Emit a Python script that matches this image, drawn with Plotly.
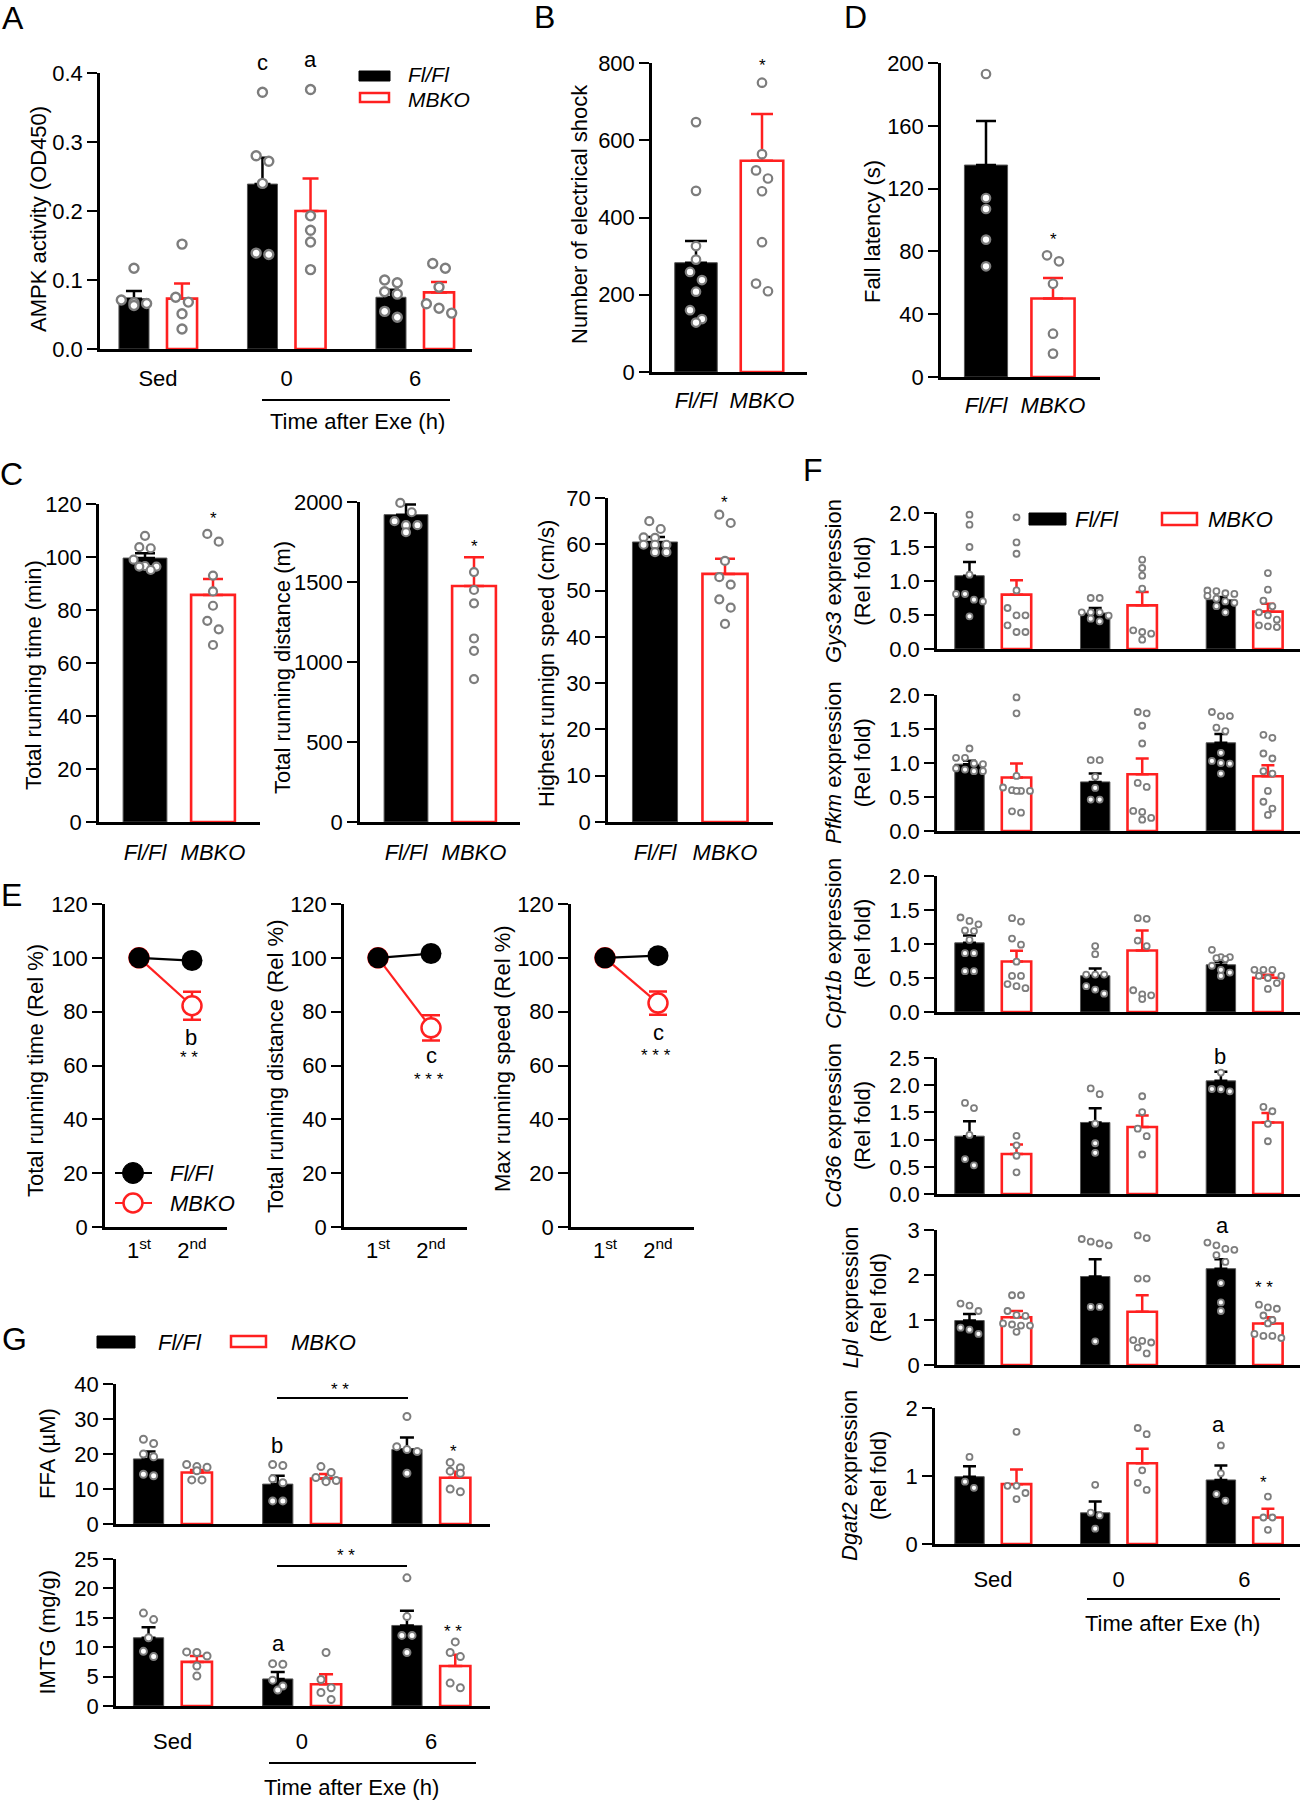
import plotly.graph_objects as go

# ---------------------------------------------------------------- data
GROUPS = ["Sed", "0", "6"]
GENO = ["<i>Fl/Fl</i>", "<i>MBKO</i>"]
ROUND = ["1<sup>st</sup>", "2<sup>nd</sup>"]

# A: AMPK activity
A_fl_mean = [0.073, 0.239, 0.075]
A_fl_sem = [0.011, 0.038, 0.011]
A_ko_mean = [0.073, 0.200, 0.082]
A_ko_sem = [0.022, 0.047, 0.015]
A_fl_pts = [[0.117, 0.071, 0.067, 0.066, 0.063],
            [0.372, 0.280, 0.272, 0.240, 0.139, 0.137],
            [0.100, 0.096, 0.083, 0.0795, 0.0545, 0.046]]
A_ko_pts = [[0.152, 0.075, 0.068, 0.051, 0.029],
            [0.376, 0.193, 0.172, 0.155, 0.115],
            [0.124, 0.117, 0.0897, 0.0655, 0.059, 0.052]]

# B: electrical shocks
B_mean = [283, 547]
B_sem = [56, 121]
B_pts = [[647, 469, 326, 291, 259, 238, 208, 160, 137, 128],
         [749, 564, 522, 501, 468, 336, 229, 209]]

# D: fall latency
D_mean = [135, 50]
D_sem = [28, 13]
D_pts = [[193, 114, 107, 87.5, 70.5],
         [77.5, 73.7, 59.4, 27.6, 14.9]]

# C: running tests
C1_mean = [99.6, 85.7]
C1_sem = [1.8, 6.0]
C1_pts = [[108, 103.7, 103.3, 99, 96.6, 96.4, 96.4, 95.1],
          [108.7, 105.8, 93, 87, 81.6, 75.9, 72.7, 66.8]]
C2_mean = [1921, 1475]
C2_sem = [63, 180]
C2_pts = [[1994, 1936, 1880, 1855, 1855, 1811],
          [1562, 1450, 1367, 1147, 1070, 893]]
C3_mean = [60.5, 53.6]
C3_sem = [1.1, 3.3]
C3_pts = [[65, 63.3, 61.5, 61.4, 59.9, 59.9, 59.9, 58.3, 58.3],
          [66.4, 64.6, 56.4, 52.9, 51.3, 48.1, 46.3, 42.8]]

# E: repeated test (relative %)
E_fl = [[100, 99.0], [100, 101.6], [100, 100.8]]
E_ko = [[100, 82.2], [100, 74.0], [100, 83.2]]
E_ko_err = [[0, 5.2], [0, 4.7], [0, 4.3]]

# F: gene expression
F_genes = ["Gys3", "Pfkm", "Cpt1b", "Cd36", "Lpl", "Dgat2"]
F_fl_mean = [[1.078, 0.529, 0.725], [0.983, 0.722, 1.297], [1.017, 0.533, 0.694],
             [1.063, 1.315, 2.08], [0.988, 1.966, 2.14], [0.99, 0.459, 0.942]]
F_fl_sem = [[0.201, 0.074, 0.039], [0.049, 0.123, 0.128], [0.108, 0.107, 0.044],
            [0.275, 0.26, 0.168], [0.147, 0.384, 0.21], [0.154, 0.165, 0.214]]
F_ko_mean = [[0.799, 0.642, 0.549], [0.786, 0.835, 0.806], [0.743, 0.905, 0.503],
             [0.734, 1.231, 1.315], [1.061, 1.182, 0.923], [0.88, 1.187, 0.39]]
F_ko_sem = [[0.211, 0.196, 0.117], [0.207, 0.231, 0.162], [0.157, 0.295, 0.045],
            [0.176, 0.214, 0.175], [0.139, 0.368, 0.138], [0.215, 0.213, 0.13]]
F_fl_pts = [
    [[1.975, 1.828, 1.5, 1.093, 0.809, 0.809, 0.725, 0.70, 0.48],
     [0.75, 0.75, 0.539, 0.539, 0.539, 0.49, 0.446, 0.407],
     [0.86, 0.85, 0.82, 0.81, 0.78, 0.74, 0.70, 0.68, 0.63, 0.54]],
    [[1.213, 1.076, 1.076, 0.993, 0.983, 0.92, 0.904, 0.88, 0.88],
     [1.042, 1.042, 0.796, 0.634, 0.462, 0.462],
     [1.75, 1.69, 1.69, 1.52, 1.47, 1.15, 1.03, 1.0, 0.99, 0.845]],
    [[1.39, 1.34, 1.29, 1.2, 1.19, 1.06, 0.865, 0.865, 0.6, 0.6],
     [0.97, 0.85, 0.55, 0.55, 0.55, 0.38, 0.33, 0.27],
     [0.915, 0.807, 0.807, 0.792, 0.778, 0.68, 0.62, 0.58, 0.53]],
    [[1.674, 1.58, 1.086, 0.642, 0.528],
     [1.94, 1.835, 1.292, 0.933, 0.757],
     [2.232, 1.93, 1.926, 1.888]],
    [[1.366, 1.32, 1.2, 0.83, 0.785, 0.69],
     [2.8, 2.74, 2.7, 2.66, 1.29, 1.29, 0.526],
     [2.72, 2.66, 2.58, 2.56, 2.44, 2.29, 1.82, 1.39, 1.2]],
    [[1.28, 0.917, 0.826],
     [0.87, 0.46, 0.42, 0.226],
     [1.45, 1.04, 0.734, 0.636]],
]
F_ko_pts = [
    [[1.936, 1.568, 1.401, 0.862, 0.603, 0.495, 0.495, 0.348, 0.25, 0.25],
     [1.313, 1.191, 1.078, 0.887, 0.274, 0.25, 0.225, 0.137],
     [1.117, 0.872, 0.711, 0.627, 0.539, 0.495, 0.431, 0.348, 0.333, 0.323]],
    [[1.965, 1.73, 0.81, 0.64, 0.6, 0.59, 0.59, 0.59, 0.29, 0.27],
     [1.75, 1.73, 1.548, 1.287, 0.707, 0.648, 0.295, 0.28, 0.192, 0.167],
     [1.415, 1.37, 1.14, 1.066, 0.88, 0.845, 0.59, 0.43, 0.33, 0.236]],
    [[1.38, 1.33, 1.08, 0.99, 0.74, 0.53, 0.53, 0.41, 0.38, 0.35],
     [1.38, 1.37, 1.05, 0.97, 0.32, 0.26, 0.245, 0.19],
     [0.62, 0.62, 0.62, 0.53, 0.53, 0.5, 0.425, 0.34]],
    [[1.07, 0.894, 0.703, 0.398],
     [1.797, 1.506, 1.2, 1.063, 0.726],
     [1.6, 1.521, 1.29, 0.97]],
    [[1.55, 1.55, 1.2, 1.11, 1.09, 0.923, 0.9, 0.877, 0.877, 0.738],
     [2.88, 2.82, 1.92, 1.92, 0.554, 0.535, 0.5, 0.387, 0.258],
     [1.34, 1.28, 1.25, 1.1, 1.0, 0.923, 0.69, 0.646, 0.646, 0.6]],
    [[1.65, 0.856, 0.856, 0.75, 0.66],
     [1.706, 1.615, 1.083, 0.9, 0.795],
     [0.697, 0.39, 0.39, 0.208]],
]
F_ymax = [2.0, 2.0, 2.0, 2.5, 3, 2]
F_ticks = [[0, 0.5, 1.0, 1.5, 2.0], [0, 0.5, 1.0, 1.5, 2.0], [0, 0.5, 1.0, 1.5, 2.0],
           [0, 0.5, 1.0, 1.5, 2.0, 2.5], [0, 1, 2, 3], [0, 1, 2]]

# G: FFA and IMTG
G_names = ["FFA (µM)", "IMTG (mg/g)"]
G_fl_mean = [[18.6, 11.4, 21.3], [11.6, 4.6, 13.7]]
G_fl_sem = [[2.1, 2.4, 3.4], [1.8, 1.2, 2.5]]
G_ko_mean = [[14.7, 13.0, 13.2], [7.5, 3.7, 6.8]]
G_ko_sem = [[0.7, 1.3, 1.7], [1.0, 1.7, 1.9]]
G_fl_pts = [[[24.2, 23.0, 20.0, 19.2, 14.2, 13.8], [17.0, 16.7, 12.9, 11.8, 6.6, 6.6], [30.7, 22.1, 21.3, 20.7, 14.5]],
            [[15.8, 14.7, 11.6, 9.3, 8.4], [7.2, 7.1, 4.4, 3.4, 2.7], [21.8, 15.2, 12.0, 12.0, 9.1]]]
G_ko_pts = [[[17.0, 16.4, 16.2, 15.2, 12.6, 12.6], [16.4, 14.7, 13.3, 12.4, 12.4, 12.1], [17.6, 16.1, 15.1, 14.5, 10.0, 9.2]],
            [[9.2, 9.1, 8.5, 6.8, 5.1], [9.1, 4.5, 3.1, 2.3, 1.1], [10.9, 9.1, 8.4, 3.9, 3.1]]]
G_ymax = [40, 25]
G_ticks = [[0, 10, 20, 30, 40], [0, 5, 10, 15, 20, 25]]

# ---------------------------------------------------------------- helpers
W, H = 1301, 1800
FONT = "Liberation Sans, Arial, Helvetica, sans-serif"
RED = "#ff2020"
GRAY = "#7d7d7d"

fig = go.Figure()
LAY, ANN, SHP = {}, [], []
n_ax = [0]


def make_axes(x0, x1, ytop, ybot, xr, yr, ytv, yfmt, xtv=None, xtt=None, xstand=8, tfs=22, xfs=22):
    n_ax[0] += 1
    s = "" if n_ax[0] == 1 else str(n_ax[0])
    xd = dict(domain=[x0 / W, x1 / W], range=xr, anchor="y" + s, showline=True, automargin=False,
              linecolor="black", linewidth=2.5, showgrid=False, zeroline=False, ticks="",
              fixedrange=True)
    if xtv:
        xd.update(tickvals=xtv, ticktext=xtt, tickfont=dict(size=xfs, color="black", family=FONT),
                  ticklabelstandoff=xstand, showticklabels=True)
    else:
        xd.update(showticklabels=False)
    LAY["xaxis" + s] = xd
    LAY["yaxis" + s] = dict(domain=[1 - ybot / H, 1 - ytop / H], range=yr, anchor="x" + s, showline=True,
                            automargin=False,
                            linecolor="black", linewidth=2.5, showgrid=False, zeroline=False, ticks="outside",
                            ticklen=10, tickwidth=2, tickcolor="black", tickvals=ytv, tickformat=yfmt,
                            tickfont=dict(size=tfs, color="black", family=FONT), fixedrange=True)
    return "x" + s, "y" + s


def swarm_x(vals, center, ppx, ppy, diam, cap):
    order = sorted(range(len(vals)), key=lambda i: -vals[i])
    rows, cur = [], []
    for i in order:
        if cur and (vals[cur[0]] - vals[i]) * ppy < diam * 0.85 and len(cur) < cap:
            cur.append(i)
        else:
            if cur:
                rows.append(cur)
            cur = [i]
    if cur:
        rows.append(cur)
    xs = [center] * len(vals)
    for r in rows:
        m = len(r)
        for k, i in enumerate(r):
            xs[i] = center + (k - (m - 1) / 2) * diam * 1.02 / ppx
    return xs


def bars(xa, ya, xs, means, sems, ko, bw, capw):
    if ko:
        mk = dict(color="white", line=dict(color=RED, width=2.6))
        ec = RED
    else:
        mk = dict(color="black", line=dict(color="#555555", width=1))
        ec = "black"
    fig.add_trace(go.Bar(x=xs, y=means, width=bw, marker=mk,
                         error_y=dict(type="data", symmetric=False, array=sems, arrayminus=[0] * len(sems),
                                      color=ec, thickness=2.5, width=capw),
                         xaxis=xa, yaxis=ya, showlegend=False, hoverinfo="skip"))


def points(xa, ya, xs_center, pts, ppx, ppy, msize, mline, cap):
    X, Y = [], []
    for c, vals in zip(xs_center, pts):
        X += swarm_x(vals, c, ppx, ppy, msize + mline + 1, cap)
        Y += vals
    fig.add_trace(go.Scatter(x=X, y=Y, mode="markers", cliponaxis=False,
                             marker=dict(size=msize, color="white", line=dict(color=GRAY, width=mline)),
                             xaxis=xa, yaxis=ya, showlegend=False, hoverinfo="skip"))


def text(t, xpx, ypx, size=22, angle=0, xanchor="center", yanchor="middle"):
    ANN.append(dict(text=t, x=xpx / W, y=1 - ypx / H, xref="paper", yref="paper", showarrow=False,
                    font=dict(size=size, color="black", family=FONT), textangle=angle,
                    xanchor=xanchor, yanchor=yanchor))


def star(t, xpx, ypx, size=17):
    text(t, xpx, ypx + size * 0.22, size=size)


def rect(x0, y0, x1, y1, fill, line, lw):
    SHP.append(dict(type="rect", xref="paper", yref="paper", x0=x0 / W, x1=x1 / W, y0=1 - y0 / H, y1=1 - y1 / H,
                    fillcolor=fill, line=dict(color=line, width=lw)))


def hline(x0, x1, y, color="black", lw=2):
    SHP.append(dict(type="line", xref="paper", yref="paper", x0=x0 / W, x1=x1 / W, y0=1 - y / H, y1=1 - y / H,
                    line=dict(color=color, width=lw)))


def circ(cx, cy, d, fill, line, lw):
    r = d / 2
    SHP.append(dict(type="circle", xref="paper", yref="paper", x0=(cx - r) / W, x1=(cx + r) / W,
                    y0=1 - (cy + r) / H, y1=1 - (cy - r) / H, fillcolor=fill, line=dict(color=line, width=lw)))


def panel3(x0, x1, ytop, ybot, c0, sp, ymax, ytv, yfmt, flm, fls, kom, kos, flp, kop,
           show_x, msize, mline, capw, cap, xstand=8):
    xr = [(x0 - c0) / sp, (x1 - c0) / sp]
    xa, ya = make_axes(x0, x1, ytop, ybot, xr, [0, ymax], ytv, yfmt,
                       xtv=[0, 1, 2] if show_x else None, xtt=GROUPS if show_x else None, xstand=xstand)
    off = 0.187
    bw = 0.234
    xfl = [g - off for g in range(3)]
    xko = [g + off for g in range(3)]
    bars(xa, ya, xfl, flm, fls, False, bw, capw)
    bars(xa, ya, xko, kom, kos, True, bw, capw)
    ppy = (ybot - ytop) / ymax
    points(xa, ya, xfl, flp, sp, ppy, msize, mline, cap)
    points(xa, ya, xko, kop, sp, ppy, msize, mline, cap)
    return xa, ya


def panel2(x0, x1, ytop, ybot, c0, sp, ymax, ytv, mean, sem, pts, msize, mline, capw, cap, xstand=7):
    xr = [(x0 - c0) / sp, (x1 - c0) / sp]
    xa, ya = make_axes(x0, x1, ytop, ybot, xr, [0, ymax], ytv, "d", xtv=[0, 1], xtt=GENO, xstand=xstand)
    bw = 0.644
    bars(xa, ya, [0], [mean[0]], [sem[0]], False, bw, capw)
    bars(xa, ya, [1], [mean[1]], [sem[1]], True, bw, capw)
    ppy = (ybot - ytop) / ymax
    points(xa, ya, [0, 1], pts, sp, ppy, msize, mline, cap)
    return xa, ya


# ---------------------------------------------------------------- panel A
panel3(100, 472, 73, 349, 158, 128.5, 0.4, [0, 0.1, 0.2, 0.3, 0.4], ".1f",
       A_fl_mean, A_fl_sem, A_ko_mean, A_ko_sem, A_fl_pts, A_ko_pts, True, 9, 2.4, 8, 3, xstand=8)
text("A", 13, 18, size=32)
text("AMPK activity (OD450)", 38, 219, angle=-90)
text("c", 262, 62)
text("a", 310, 60)
rect(359, 71, 390, 81, "black", "black", 1)
rect(360, 93, 389, 102, "white", RED, 2.5)
text("<i>Fl/Fl</i>", 406, 75, size=21, xanchor="left")
text("<i>MBKO</i>", 406, 99, size=21, xanchor="left")
hline(262, 450, 400)
text("Time after Exe (h)", 357, 421)

# ---------------------------------------------------------------- panel B
panel2(652, 807, 63, 372, 696, 66, 800, [0, 200, 400, 600, 800], B_mean, B_sem, B_pts, 8.5, 2.2, 11, 3)
text("B", 544, 17, size=32)
text("Number of electrical shock", 579, 214, angle=-90)
star("*", 762, 62)

# ---------------------------------------------------------------- panel D
panel2(941, 1100, 63, 377, 986, 67, 200, [0, 40, 80, 120, 160, 200], D_mean, D_sem, D_pts, 8.5, 2.2, 10, 3)
text("D", 855, 17, size=32)
text("Fall latency (s)", 873, 232, angle=-90)
star("*", 1053, 236)

# ---------------------------------------------------------------- panel C
panel2(99, 260, 504, 822, 145, 68, 120, [0, 20, 40, 60, 80, 100, 120], C1_mean, C1_sem, C1_pts, 8, 2.2, 10, 3, xstand=9)
panel2(360, 520, 502, 822, 406, 68, 2000, [0, 500, 1000, 1500, 2000], C2_mean, C2_sem, C2_pts, 8, 2.2, 10, 3, xstand=9)
panel2(608, 773, 498, 822, 655, 70, 70, [0, 10, 20, 30, 40, 50, 60, 70], C3_mean, C3_sem, C3_pts, 8, 2.2, 10, 3, xstand=9)
text("C", 12, 474, size=32)
text("Total running time (min)", 33, 675, angle=-90)
text("Total running distance (m)", 282, 668, angle=-90)
text("Highest runnign speed (cm/s)", 547, 664, angle=-90)
star("*", 213, 515)
star("*", 474, 543)
star("*", 724, 499)

# ---------------------------------------------------------------- panel E
E_x = [1, 2]
E_geo = [(105, 227), (344, 467), (571, 694)]
E_titles = ["Total running time (Rel %)", "Total running distance (Rel %)", "Max running speed (Rel %)"]
for i, (x0, x1) in enumerate(E_geo):
    p1 = x0 + 34
    sp = 53
    xr = [1 + (x0 - p1) / sp, 1 + (x1 - p1) / sp]
    xa, ya = make_axes(x0, x1, 904, 1227, xr, [0, 120], [0, 20, 40, 60, 80, 100, 120], "d",
                       xtv=E_x, xtt=ROUND, xstand=2)
    fig.add_trace(go.Scatter(x=E_x, y=E_ko[i], mode="lines+markers", cliponaxis=False,
                             error_y=dict(type="data", array=E_ko_err[i], color=RED, thickness=2.5, width=9),
                             line=dict(color=RED, width=2.2),
                             marker=dict(size=19, color="white", line=dict(color=RED, width=2.5)),
                             xaxis=xa, yaxis=ya, showlegend=False, hoverinfo="skip"))
    fig.add_trace(go.Scatter(x=E_x, y=E_fl[i], mode="lines+markers", cliponaxis=False,
                             line=dict(color="black", width=2.2),
                             marker=dict(size=21, color="black"),
                             xaxis=xa, yaxis=ya, showlegend=False, hoverinfo="skip"))
text("E", 12, 895, size=32)
text(E_titles[0], 35, 1071, angle=-90)
text(E_titles[1], 275, 1067, angle=-90)
text(E_titles[2], 502, 1058, angle=-90)
text("b", 191, 1037)
star("* *", 189, 1054)
text("c", 431, 1055)
star("* * *", 429, 1076)
text("c", 658, 1032)
star("* * *", 656, 1052)
# legend in E
hline(115, 152, 1173, "black", 2.2)
circ(133, 1173, 21, "black", "black", 1)
hline(115, 152, 1203, RED, 2.2)
circ(133, 1203, 19, "white", RED, 2.5)
text("<i>Fl/Fl</i>", 168, 1173, xanchor="left")
text("<i>MBKO</i>", 168, 1203, xanchor="left")

# ---------------------------------------------------------------- panel F
F_geo = [(513, 649), (695, 831), (876, 1012), (1058, 1194), (1230, 1365), (1408, 1544)]
for i, (yt, yb) in enumerate(F_geo):
    ymax = F_ymax[i]
    fmt = ".1f" if i < 4 else "d"
    x0 = 937 if i < 5 else 935
    panel3(x0, 1300, yt, yb, 993, 125.7, ymax, F_ticks[i], fmt,
           F_fl_mean[i], F_fl_sem[i], F_ko_mean[i], F_ko_sem[i], F_fl_pts[i], F_ko_pts[i],
           i == 5, 6, 1.8, 6.5, 4, xstand=14)
    cy = (yt + yb) / 2
    xt = 848 if i < 4 else 864
    text(f"<i>{F_genes[i]}</i> expression<br>(Rel fold)", xt, cy, angle=-90)
text("F", 813, 470, size=32)
rect(1029, 513, 1066, 525, "black", "black", 1)
rect(1162, 513, 1197, 525, "white", RED, 2.5)
text("<i>Fl/Fl</i>", 1073, 519, xanchor="left")
text("<i>MBKO</i>", 1206, 519, xanchor="left")
text("b", 1220, 1056)
text("a", 1222, 1225)
star("* *", 1264, 1284)
text("a", 1218, 1424)
star("*", 1263, 1479)
hline(1087, 1280, 1599)
text("Time after Exe (h)", 1172, 1623)

# ---------------------------------------------------------------- panel G
G_geo = [(1384, 1524), (1559, 1706)]
for i, (yt, yb) in enumerate(G_geo):
    panel3(116, 490, yt, yb, 172.7, 129.2, G_ymax[i], G_ticks[i], "d",
           G_fl_mean[i], G_fl_sem[i], G_ko_mean[i], G_ko_sem[i], G_fl_pts[i], G_ko_pts[i],
           i == 1, 7, 2, 7, 3, xstand=14)
    text(G_names[i], 47, (yt + yb) / 2, angle=-90)
text("G", 14, 1339, size=32)
rect(97, 1336, 135, 1348, "black", "black", 1)
rect(231, 1336, 266, 1347, "white", RED, 2.5)
text("<i>Fl/Fl</i>", 156, 1342, xanchor="left")
text("<i>MBKO</i>", 289, 1342, xanchor="left")
text("b", 277, 1445)
star("*", 453, 1448)
hline(277, 408, 1398)
star("* *", 340, 1386)
text("a", 278, 1643)
star("* *", 453, 1628)
hline(277, 407, 1566)
star("* *", 346, 1552)
hline(269, 476, 1763)
text("Time after Exe (h)", 351, 1787)

# ---------------------------------------------------------------- layout
fig.update_layout(template="none")
fig.update_layout(**LAY)
fig.update_layout(annotations=ANN, shapes=SHP, barmode="overlay", showlegend=False,
                  width=W, height=H, autosize=False, margin=dict(l=0, r=0, t=0, b=0, pad=0), hovermode=False,
                  font=dict(family=FONT, color="black", size=22),
                  plot_bgcolor="rgba(0,0,0,0)", paper_bgcolor="white")
fig.write_html("out.html", config={"responsive": False, "displayModeBar": False},
               post_script="document.body.style.margin='0';document.body.style.padding='0';"
                           "document.body.style.overflow='hidden';")
